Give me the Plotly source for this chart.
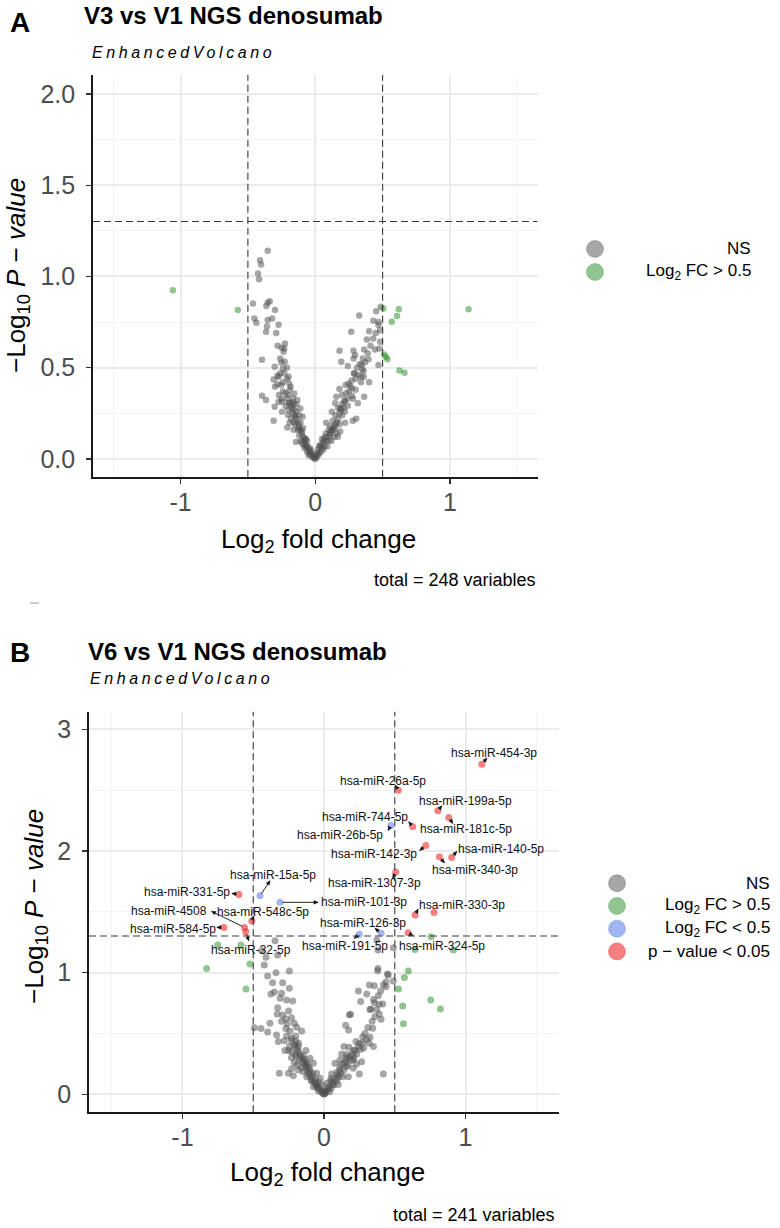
import math
import plotly.graph_objects as go

W, H = 780, 1228
FONT = "Liberation Sans, Arial, sans-serif"

# ---------------- Panel A data (V3 vs V1) ----------------
A_ns_x = [-0.353, -0.41, -0.402, -0.425, -0.417, -0.462, -0.353, -0.338, -0.363, -0.299, -0.452, -0.437, -0.353,
          -0.358, -0.365, -0.272, -0.225, -0.23, -0.235, -0.395, -0.252, -0.227, -0.301, -0.24, -0.281, -0.272,
          -0.198, -0.309, -0.193, -0.252, -0.183, -0.299, -0.395, -0.365, -0.269, -0.156, -0.165, -0.272, -0.247,
          -0.198, -0.133, -0.111, -0.301, -0.247, -0.173, -0.202, -0.148, -0.094, -0.309, -0.16, -0.207, -0.123,
          -0.099, -0.143, -0.079, -0.069, -0.037, -0.012,
          0.326, 0.486, 0.452, 0.432, 0.469, 0.481, 0.267, 0.383, 0.481, 0.18, 0.284, 0.296, 0.363, 0.444, 0.477,
          0.284, 0.353, 0.395, 0.193, 0.346, 0.469, 0.242, 0.289, 0.358, 0.34, 0.4, 0.247, 0.225, 0.18, 0.272,
          0.198, 0.272, 0.363, 0.156, 0.215, 0.316, 0.148, 0.242, 0.185, 0.123, 0.304, 0.279, 0.081, 0.222, 0.148,
          0.123, 0.185, 0.106, 0.168, 0.062, 0.037, 0.012,
          -0.21, -0.19, -0.18, -0.2, -0.17, -0.16, -0.15, -0.14, -0.13, -0.15, -0.12, -0.11, -0.1, -0.12, -0.09,
          -0.08, -0.1, -0.07, -0.06, -0.08, -0.05, -0.06, -0.04, -0.03, -0.05, -0.02, -0.03, -0.09, -0.11, -0.14,
          -0.17, -0.22, -0.19, -0.24, -0.21, -0.26, -0.23, -0.2, -0.16, -0.13, -0.07, -0.04, -0.18, -0.12, -0.24,
          -0.28, -0.26, -0.21, -0.28, -0.25, -0.32, -0.29, -0.14, -0.11, -0.16, -0.09, -0.06, -0.22, -0.25, -0.19,
          0.01, 0.02, 0.03, 0.02, 0.04, 0.05, 0.04, 0.06, 0.07, 0.08, 0.09, 0.07, 0.1, 0.11, 0.1, 0.12, 0.13, 0.14,
          0.15, 0.16, 0.13, 0.17, 0.15, 0.18, 0.2, 0.19, 0.21, 0.2, 0.22, 0.24, 0.23, 0.25, 0.26, 0.27, 0.3, 0.29,
          0.31, 0.33, 0.32, 0.35, 0.37, 0.39, 0.41, 0.43, 0.45, 0.47, 0.4, 0.08, 0.11, 0.06, 0.03, 0.12, 0.09, 0.16,
          0.18, 0.14, 0.05, 0.22, 0.17, 0.28, 0.3, 0.34, 0.36, 0.0, 0.0, -0.01]
A_ns_y = [1.141, 1.089, 1.066, 1.016, 0.985, 0.852, 0.856, 0.865, 0.838, 0.816, 0.77, 0.746, 0.761,
          0.728, 0.697, 0.735, 0.633, 0.606, 0.588, 0.544, 0.529, 0.533, 0.505, 0.496, 0.456, 0.451,
          0.451, 0.436, 0.414, 0.405, 0.396, 0.396, 0.347, 0.323, 0.35, 0.359, 0.332, 0.314, 0.314,
          0.305, 0.323, 0.277, 0.286, 0.259, 0.277, 0.241, 0.232, 0.232, 0.21, 0.201, 0.172, 0.168,
          0.15, 0.093, 0.113, 0.068, 0.049, 0.022,
          0.786, 0.834, 0.81, 0.757, 0.734, 0.706, 0.697, 0.655, 0.642, 0.593, 0.593, 0.569, 0.6, 0.6, 0.606,
          0.551, 0.551, 0.546, 0.533, 0.515, 0.515, 0.509, 0.469, 0.482, 0.451, 0.42, 0.414, 0.405, 0.383, 0.387,
          0.35, 0.347, 0.341, 0.341, 0.314, 0.305, 0.305, 0.292, 0.277, 0.259, 0.221, 0.21, 0.199, 0.199, 0.177,
          0.159, 0.15, 0.14, 0.122, 0.104, 0.068, 0.031,
          0.33, 0.31, 0.29, 0.27, 0.25, 0.27, 0.24, 0.22, 0.2, 0.19, 0.18, 0.16, 0.14, 0.13, 0.12,
          0.1, 0.09, 0.08, 0.07, 0.06, 0.05, 0.04, 0.03, 0.02, 0.02, 0.01, 0.04, 0.17, 0.2, 0.26,
          0.31, 0.36, 0.38, 0.42, 0.44, 0.47, 0.47, 0.35, 0.3, 0.16, 0.11, 0.06, 0.22, 0.24, 0.37,
          0.41, 0.55, 0.5, 0.62, 0.61, 0.77, 0.69, 0.3, 0.1, 0.16, 0.08, 0.1, 0.29, 0.33, 0.2,
          0.01, 0.02, 0.03, 0.05, 0.04, 0.06, 0.08, 0.09, 0.07, 0.1, 0.12, 0.12, 0.1, 0.13, 0.16, 0.15, 0.17, 0.16,
          0.19, 0.2, 0.21, 0.22, 0.24, 0.25, 0.24, 0.27, 0.28, 0.3, 0.32, 0.33, 0.36, 0.37, 0.4, 0.43, 0.44, 0.47,
          0.5, 0.52, 0.46, 0.49, 0.53, 0.58, 0.62, 0.66, 0.69, 0.75, 0.7, 0.14, 0.18, 0.05, 0.07, 0.1, 0.07, 0.14,
          0.19, 0.12, 0.11, 0.26, 0.28, 0.33, 0.38, 0.42, 0.45, 0.0, 0.01, 0.005]
A_fc_x = [-1.057, -0.575, 0.506, 0.62, 0.607, 0.568, 1.138, 0.511, 0.525, 0.536, 0.625, 0.662]
A_fc_y = [0.925, 0.816, 0.825, 0.821, 0.783, 0.752, 0.821, 0.573, 0.56, 0.547, 0.485, 0.473]
A_xticks = [-1, 0, 1]
A_xticktext = ["-1", "0", "1"]
A_yticks = [0, 0.5, 1.0, 1.5, 2.0]
A_yticktext = ["0.0", "0.5", "1.0", "1.5", "2.0"]

# ---------------- Panel B data (V6 vs V1) ----------------
B_ns_x = [-0.346, -0.41, -0.327, -0.44, -0.422, -0.398, -0.339, -0.245, -0.363, -0.292, -0.245, -0.375, -0.299,
          -0.264, -0.221, -0.327, -0.25, -0.292, -0.229, -0.382, -0.21, -0.492, -0.445, -0.398, -0.269, -0.193,
          -0.158, -0.335, -0.264, -0.229, -0.323, -0.198, -0.245, -0.205, -0.181, -0.127, -0.276, -0.229, -0.198,
          -0.146, -0.099, -0.127, -0.174, -0.075, -0.111, -0.229, -0.181, -0.146, -0.099, -0.052, -0.316, -0.252,
          -0.217, -0.122, -0.028, -0.087, -0.052, -0.016, -0.075, -0.04, -0.005, -0.009,
          0.379, 0.448, 0.49, 0.438, 0.356, 0.32, 0.438, 0.243, 0.302, 0.384, 0.259, 0.356, 0.415, 0.325, 0.372,
          0.391, 0.188, 0.179, 0.403, 0.153, 0.174, 0.344, 0.273, 0.325, 0.141, 0.177, 0.226, 0.273, 0.32, 0.349,
          0.259, 0.207, 0.231, 0.125, 0.16, 0.113, 0.155, 0.207, 0.266, 0.078, 0.113, 0.16, 0.207, 0.419, 0.25,
          0.054, 0.097, 0.132, 0.172, 0.047, 0.09, 0.019, 0.061, 0.031, 0.007, 0.381, 0.454, 0.373, 0.381, 0.49,
          -0.2, -0.18, -0.16, -0.15, -0.14, -0.13, -0.16, -0.12, -0.11, -0.1, -0.08, -0.09, -0.07, -0.06, -0.05,
          -0.03, -0.04, -0.02, -0.06, -0.08, -0.1, -0.12, -0.14, -0.17, -0.19, -0.21, -0.23, -0.18, -0.2, -0.24,
          -0.26, -0.21, -0.19, -0.23, -0.25, -0.28, -0.3, -0.27, -0.33, -0.31, -0.35, -0.036,
          0.01, 0.02, 0.04, 0.03, 0.05, 0.06, 0.07, 0.08, 0.1, 0.09, 0.11, 0.12, 0.14, 0.13, 0.15, 0.17, 0.16,
          0.18, 0.19, 0.2, 0.22, 0.21, 0.24, 0.25, 0.23, 0.28, 0.3, 0.29, 0.31, 0.34, 0.36, 0.33, 0.35, 0.4, 0.42,
          0.39, 0.05, 0.1, 0.0, 0.002]
B_ns_y = [1.262, 1.126, 1.145, 1.18, 1.062, 0.972, 1.0, 1.013, 0.917, 0.917, 0.871, 0.824, 0.83,
          0.775, 0.767, 0.712, 0.685, 0.652, 0.63, 0.583, 0.583, 0.548, 0.54, 0.512, 0.54, 0.551,
          0.52, 0.488, 0.479, 0.46, 0.433, 0.438, 0.392, 0.392, 0.392, 0.359, 0.359, 0.348, 0.31,
          0.318, 0.296, 0.268, 0.282, 0.255, 0.227, 0.211, 0.2, 0.186, 0.186, 0.173, 0.173, 0.173,
          0.153, 0.145, 0.131, 0.118, 0.085, 0.077, 0.063, 0.049, 0.022, 0.008,
          1.016, 0.988, 0.931, 0.926, 0.893, 0.898, 0.885, 0.849, 0.824, 0.811, 0.762, 0.753, 0.742, 0.698, 0.698,
          0.66, 0.657, 0.652, 0.616, 0.567, 0.529, 0.542, 0.474, 0.468, 0.392, 0.386, 0.433, 0.424, 0.419, 0.392,
          0.37, 0.359, 0.331, 0.331, 0.329, 0.282, 0.282, 0.282, 0.268, 0.255, 0.227, 0.227, 0.214, 0.167, 0.167,
          0.167, 0.159, 0.145, 0.145, 0.112, 0.112, 0.09, 0.077, 0.049, 0.03, 1.035, 0.98, 1.268, 1.186, 1.205,
          0.33, 0.35, 0.3, 0.27, 0.25, 0.23, 0.22, 0.2, 0.17, 0.15, 0.14, 0.11, 0.1, 0.08, 0.06,
          0.05, 0.03, 0.02, 0.12, 0.17, 0.21, 0.25, 0.29, 0.33, 0.37, 0.41, 0.44, 0.42, 0.48, 0.52,
          0.58, 0.26, 0.24, 0.3, 0.36, 0.44, 0.6, 0.62, 0.66, 0.79, 0.84, 0.1,
          0.01, 0.03, 0.02, 0.06, 0.05, 0.1, 0.08, 0.13, 0.14, 0.18, 0.2, 0.17, 0.2, 0.25, 0.26, 0.24, 0.3,
          0.31, 0.28, 0.33, 0.36, 0.3, 0.39, 0.42, 0.25, 0.38, 0.45, 0.5, 0.55, 0.6, 0.64, 0.7, 0.78, 0.85, 0.9,
          0.74, 0.13, 0.08, 0.0, 0.005]
B_fc_x = [-0.751, -0.587, -0.829, -0.523, -0.551, 0.756, 0.643, 0.914, 0.596, 0.568, 0.526, 0.754, 0.822, 0.556, 0.561]
B_fc_y = [1.227, 1.227, 1.035, 1.071, 0.865, 1.295, 1.191, 1.186, 1.013, 0.961, 0.865, 0.775, 0.701, 0.726, 0.58]

# significant (p < 0.05) features; category "p" = |log2FC| < 0.5, "pfc" = both
B_sig_names = ["hsa-miR-454-3p", "hsa-miR-26a-5p", "hsa-miR-199a-5p", "hsa-miR-181c-5p", "hsa-miR-744-5p",
               "hsa-miR-26b-5p", "hsa-miR-142-3p", "hsa-miR-140-5p", "hsa-miR-340-3p", "hsa-miR-1307-3p",
               "hsa-miR-15a-5p", "hsa-miR-331-5p", "hsa-miR-101-3p", "hsa-miR-4508", "hsa-miR-548c-5p",
               "hsa-miR-584-5p", "hsa-miR-32-5p", "hsa-miR-126-3p", "hsa-miR-191-5p", "hsa-miR-330-3p",
               "hsa-miR-324-5p", ""]
B_sig_x = [1.115, 0.525, 0.804, 0.881, 0.627, 0.473, 0.719, 0.902, 0.815, 0.507, -0.452, -0.601, -0.311,
           -0.561, -0.51, -0.707, -0.553, 0.403, 0.249, 0.643, 0.594, 0.777]
B_sig_y = [2.714, 2.5, 2.33, 2.276, 2.199, 2.21, 2.046, 1.947, 1.952, 1.827, 1.632, 1.643, 1.578,
           1.372, 1.424, 1.372, 1.336, 1.323, 1.315, 1.473, 1.328, 1.495]
B_sig_cat = ["pfc", "pfc", "pfc", "pfc", "pfc", "p", "pfc", "pfc", "pfc", "pfc", "p", "pfc", "p",
             "pfc", "pfc", "pfc", "pfc", "p", "p", "pfc", "pfc", "pfc"]
B_xticks = [-1, 0, 1]
B_xticktext = ["-1", "0", "1"]
B_yticks = [0, 1, 2, 3]
B_yticktext = ["0", "1", "2", "3"]

# label placement (pixel offsets of label centre and arrow tip, layout only)
LAB_DX = [12, -15, 28, 17, -48, -51, -52, 49, 36, -21, 13, -52, 84, -76, 11, -51, 5, -18, -14, 47, 34, 0]
LAB_DY = [-11, -9, -10, 12, -10, 10, 9, -8, 13, 11, -21, -2, 0, -16, -9, 2, 18, -10, 12, -10, 13, 0]
ARR_DX = [5, -3, 4, 4, -4, -3, -6, 5, 5, -3, 10, -7, 38, -33, 2, -7, 3, -6, -5, 3, 5, 0]
ARR_DY = [-6, -5, -5, 6, -5, 5, 5, -6, 6, 6, -15, -1, 0, -16, -5, 0, 9, -5, 4, -6, 3, 0]

COL = {
    "ns": "rgba(77,77,77,0.5)",
    "fc": "rgba(34,139,34,0.5)",
    "p": "rgba(65,105,225,0.5)",
    "pfc": "rgba(238,0,0,0.5)",
}


def px_x(px):
    return px / W


def px_y(py):
    return 1 - py / H


fig = go.Figure()

# ---------- traces ----------
fig.add_trace(go.Scatter(x=A_ns_x, y=A_ns_y, mode="markers", xaxis="x", yaxis="y",
                         marker=dict(size=6.5, color=COL["ns"], line=dict(width=0)), showlegend=False))
fig.add_trace(go.Scatter(x=A_fc_x, y=A_fc_y, mode="markers", xaxis="x", yaxis="y",
                         marker=dict(size=6.5, color=COL["fc"], line=dict(width=0)), showlegend=False))

fig.add_trace(go.Scatter(x=B_ns_x, y=B_ns_y, mode="markers", xaxis="x2", yaxis="y2",
                         marker=dict(size=7, color=COL["ns"], line=dict(width=0)), showlegend=False))
fig.add_trace(go.Scatter(x=B_fc_x, y=B_fc_y, mode="markers", xaxis="x2", yaxis="y2",
                         marker=dict(size=7, color=COL["fc"], line=dict(width=0)), showlegend=False))
for cat in ["p", "pfc"]:
    xs = [x for x, c in zip(B_sig_x, B_sig_cat) if c == cat]
    ys = [y for y, c in zip(B_sig_y, B_sig_cat) if c == cat]
    fig.add_trace(go.Scatter(x=xs, y=ys, mode="markers", xaxis="x2", yaxis="y2",
                             marker=dict(size=7, color=COL[cat], line=dict(width=0)), showlegend=False))

annotations = []
shapes = []

# labels with connectors (connector = pixel-sized line + small arrowhead anchored on the point)
for name, x, y, dx, dy, adx, ady in zip(B_sig_names, B_sig_x, B_sig_y, LAB_DX, LAB_DY, ARR_DX, ARR_DY):
    if not name:
        continue
    annotations.append(dict(x=x, y=y, xref="x2", yref="y2", text=name, showarrow=False,
                            xshift=dx, yshift=-dy, xanchor="center", yanchor="middle",
                            font=dict(family=FONT, size=12, color="#111111")))
    tx, ty = adx, -ady  # tip in pixel space, y up
    L = math.hypot(tx, ty)
    ux, uy = tx / L, ty / L
    sx, sy = 2.5 * ux, 2.5 * uy
    shapes.append(dict(type="line", xref="x2", yref="y2", xsizemode="pixel", ysizemode="pixel",
                       xanchor=x, yanchor=y, x0=sx, y0=sy, x1=tx, y1=ty,
                       line=dict(color="#111111", width=0.9)))
    bx, by = tx - 4 * ux, ty - 4 * uy
    nx, ny = -uy, ux
    path = "M {:.2f},{:.2f} L {:.2f},{:.2f} L {:.2f},{:.2f} Z".format(
        tx, ty, bx + 1.8 * nx, by + 1.8 * ny, bx - 1.8 * nx, by - 1.8 * ny)
    shapes.append(dict(type="path", xref="x2", yref="y2", xsizemode="pixel", ysizemode="pixel",
                       xanchor=x, yanchor=y, path=path, fillcolor="#111111",
                       line=dict(color="#111111", width=0.5)))

grid_major = "#ebebeb"
grid_minor = "#f3f3f3"


def axis_common(**kw):
    d = dict(showline=True, linecolor="#1a1a1a", linewidth=1.8, mirror=False,
             ticks="outside", ticklen=5, tickwidth=1.3, tickcolor="#333333",
             showgrid=True, gridcolor=grid_major, gridwidth=2, zeroline=False,
             tickfont=dict(family=FONT, size=25, color="#4d4d4d"), fixedrange=True)
    d.update(kw)
    return d


layout = dict(
    width=W, height=H, margin=dict(l=0, r=0, t=0, b=0),
    paper_bgcolor="white", plot_bgcolor="white", showlegend=False, hovermode=False,
    xaxis=axis_common(domain=[px_x(93), px_x(537.5)], range=[-1.65, 1.65], anchor="y",
                      tickvals=A_xticks, ticktext=A_xticktext, ticklabelstandoff=-3,
                      minor=dict(dtick=0.5, tick0=0, showgrid=True, gridcolor=grid_minor, gridwidth=1, ticks="")),
    yaxis=axis_common(domain=[px_y(476.7), px_y(75)], range=[-0.097, 2.104], anchor="x",
                      tickvals=A_yticks, ticktext=A_yticktext, ticklabelstandoff=6,
                      minor=dict(dtick=0.25, tick0=0, showgrid=True, gridcolor=grid_minor, gridwidth=1, ticks="")),
    xaxis2=axis_common(domain=[px_x(89), px_x(559)], range=[-1.66, 1.66], anchor="y2",
                       tickvals=B_xticks, ticktext=B_xticktext, ticklabelstandoff=-3,
                       minor=dict(dtick=0.5, tick0=0, showgrid=True, gridcolor=grid_minor, gridwidth=1, ticks="")),
    yaxis2=axis_common(domain=[px_y(1112.3), px_y(711.7)], range=[-0.148, 3.145], anchor="x2",
                       tickvals=B_yticks, ticktext=B_yticktext, ticklabelstandoff=6,
                       minor=dict(dtick=0.5, tick0=0, showgrid=True, gridcolor=grid_minor, gridwidth=1, ticks="")),
)

# threshold lines
for xr, yr in [("x", "y"), ("x2", "y2")]:
    for xv in (-0.5, 0.5):
        shapes.append(dict(type="line", xref=xr, yref=yr + " domain", x0=xv, x1=xv, y0=0, y1=1,
                           line=dict(color="#3a3a3a", width=1.1, dash="7px,4px")))
    shapes.append(dict(type="line", xref=xr + " domain", yref=yr, x0=0, x1=1, y0=1.30103, y1=1.30103,
                       line=dict(color="#3a3a3a", width=1.1, dash="7px,4px")))


def ptext(text, px, py, size, xanchor="left", yanchor="middle", color="black", angle=0):
    annotations.append(dict(x=px_x(px), y=px_y(py), xref="paper", yref="paper", text=text,
                            showarrow=False, xanchor=xanchor, yanchor=yanchor, textangle=angle,
                            font=dict(family=FONT, size=size, color=color)))


SUB = '<i><span style="letter-spacing:3.6px">EnhancedVolcano</span></i>'
YT = "\u2212Log<sub>10</sub> <i>P</i> \u2212 <i>value</i>"
XT = "Log<sub>2</sub> fold change"

# Panel A texts
ptext("<b>A</b>", 20, 22, 28, xanchor="center")
ptext("<b>V3 vs V1 NGS denosumab</b>", 82, 15, 24)
ptext(SUB, 90, 52, 16)
ptext(XT, 318, 540, 26, xanchor="center")
ptext(YT, 17, 276, 26, xanchor="center", angle=-90)
ptext("total = 248 variables", 537.5, 580, 18, xanchor="right")

# Panel B texts
ptext("<b>B</b>", 20, 652, 28, xanchor="center")
ptext("<b>V6 vs V1 NGS denosumab</b>", 86, 651, 24)
ptext(SUB, 88, 678, 16)
ptext(XT, 327, 1173, 26, xanchor="center")
ptext(YT, 35, 907, 26, xanchor="center", angle=-90)
ptext("total = 241 variables", 557, 1215, 18, xanchor="right")

# legends (drawn manually, text right-aligned like ggplot)
A_leg = [("NS", "ns"), ("Log<sub>2</sub> FC &gt; 0.5", "fc")]
B_leg = [("NS", "ns"), ("Log<sub>2</sub> FC &gt; 0.5", "fc"), ("Log<sub>2</sub> FC &lt; 0.5", "p"),
         ("p \u2212 value &lt; 0.05", "pfc")]


def draw_legend(items, cx, y0, step, xr):
    r = 8.5
    for i, (lab, cat) in enumerate(items):
        cy = y0 + i * step
        shapes.append(dict(type="circle", xref="paper", yref="paper",
                           x0=px_x(cx - r), x1=px_x(cx + r), y0=px_y(cy + r), y1=px_y(cy - r),
                           fillcolor=COL[cat], line=dict(color=COL[cat], width=0.6)))
        ptext(lab, xr, cy, 17, xanchor="right")


draw_legend(A_leg, 595, 249, 23, 753)
draw_legend(B_leg, 617, 883.3, 22.7, 772)

# small stray mark between panels
shapes.append(dict(type="line", xref="paper", yref="paper", x0=px_x(30), x1=px_x(39), y0=px_y(603), y1=px_y(603),
                   line=dict(color="#9a9a9a", width=1)))

layout["annotations"] = annotations
layout["shapes"] = shapes
fig.update_layout(**layout)
fig.write_html("out.html", config={"displayModeBar": False, "staticPlot": True},
               post_script="document.body.style.margin='0';document.body.style.overflow='hidden';")
